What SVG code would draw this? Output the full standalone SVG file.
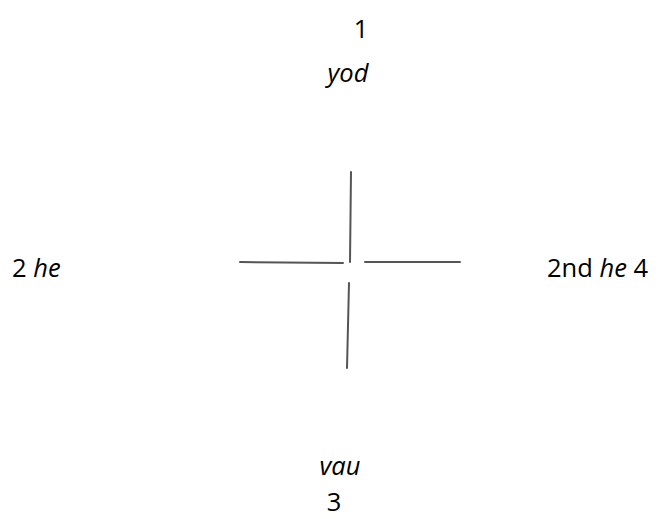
<svg xmlns="http://www.w3.org/2000/svg" width="658" height="519" viewBox="0 0 658 519">
<style>
text{font-family:"Open Sans","Noto Sans",sans-serif;font-size:25.5px;fill:#000}
.i{font-style:italic}
.ln{stroke:#555;stroke-width:2;fill:none;stroke-linecap:round}
</style>
<rect width="658" height="519" fill="#fff"/>
<g id="connectors">
<path class="ln" d="M351,172 L350,262"/>
<path class="ln" d="M349,283 L347,368"/>
<path class="ln" d="M240,262 L343,263"/>
<path class="ln" d="M365,262 L460,262"/>
</g>
<g id="node-top">
<text x="361" y="38" text-anchor="middle">1</text>
<text x="348" y="82" text-anchor="middle" class="i">yod</text>
</g>
<g id="node-left">
<text x="12" y="277">2 <tspan class="i">he</tspan></text>
</g>
<g id="node-right">
<text x="547" y="277">2nd <tspan class="i">he</tspan> 4</text>
</g>
<g id="node-bottom">
<text x="340" y="475" text-anchor="middle" class="i">vau</text>
<text x="334" y="511" text-anchor="middle">3</text>
</g>
</svg>
